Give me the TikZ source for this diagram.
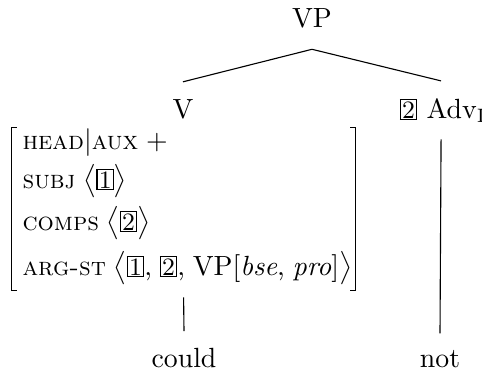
\documentclass[tikz,border=0pt]{standalone}
\usepackage{graphicx}
\usetikzlibrary{calc}
\newcommand{\tagbox}[1]{{\setlength{\fboxsep}{0.35pt}\setlength{\fboxrule}{0.4pt}\fbox{\small\makebox[4.8pt]{#1}}}}
\newcommand{\fsc}[1]{{\fontsize{9.2pt}{11pt}\selectfont\textsc{#1}}}
\tikzset{
  lbl/.style={anchor=base, inner xsep=0pt},
  avmrow/.style={anchor=base west, inner sep=0pt, execute at begin node={\spaceskip=2.8pt plus 1pt minus 1pt}},
  edge/.style={draw=black, line width=0.4pt},
  brk/.style={draw=black, line width=0.65pt}
}
\begin{document}
\begin{tikzpicture}[x=0.36pt,y=-0.36pt]
\useasboundingbox (0,0) rectangle (482,375);
\node[lbl, inner ysep=7.6pt] (vp) at (312,27) {VP};
\node[lbl, inner ysep=6pt] (v) at (183,118) {V};
\node[lbl, inner ysep=6pt] (adv) at (443,118) {\tagbox{2} Adv$_{\mathrm{I}}$};
% AVM frame
\node[minimum width=123.5pt, minimum height=58.3pt, inner sep=0pt] (avm) at (183.5,209) {};
\draw[brk] ([xshift=1.9pt]avm.north west) -- (avm.north west) -- (avm.south west) -- ([xshift=1.9pt]avm.south west);
\draw[brk] ([xshift=-1.9pt]avm.north east) -- (avm.north east) -- (avm.south east) -- ([xshift=-1.9pt]avm.south east);
\node[avmrow] (r1) at (22,149) {\fsc{head}$|$\fsc{aux} $+$};
\node[avmrow] (r2) at (22,188) {\fsc{subj} $\big\langle$\tagbox{1}$\big\rangle$};
\node[avmrow] (r3) at (22,230) {\fsc{comps} $\big\langle$\tagbox{2}$\big\rangle$};
\node[avmrow] (r4) at (22,275) {\fsc{arg-st} $\big\langle$\tagbox{1}, \tagbox{2}, VP$[$\textit{bse}, \textit{pro}$]\big\rangle$};
\node[lbl, inner ysep=5.8pt] (could) at (184,367) {could};
\node[lbl, inner ysep=5.8pt] (not) at (440,367) {not};
\draw[edge] (vp.south) -- (v.north);
\draw[edge] (vp.south) -- ([xshift=-0.7pt]adv.north);
\draw[edge, shorten <=2.5pt] (avm.south) -- (could.north);
\draw[edge] ([xshift=-0.7pt]adv.south) -- (not.north);
\end{tikzpicture}
\end{document}
